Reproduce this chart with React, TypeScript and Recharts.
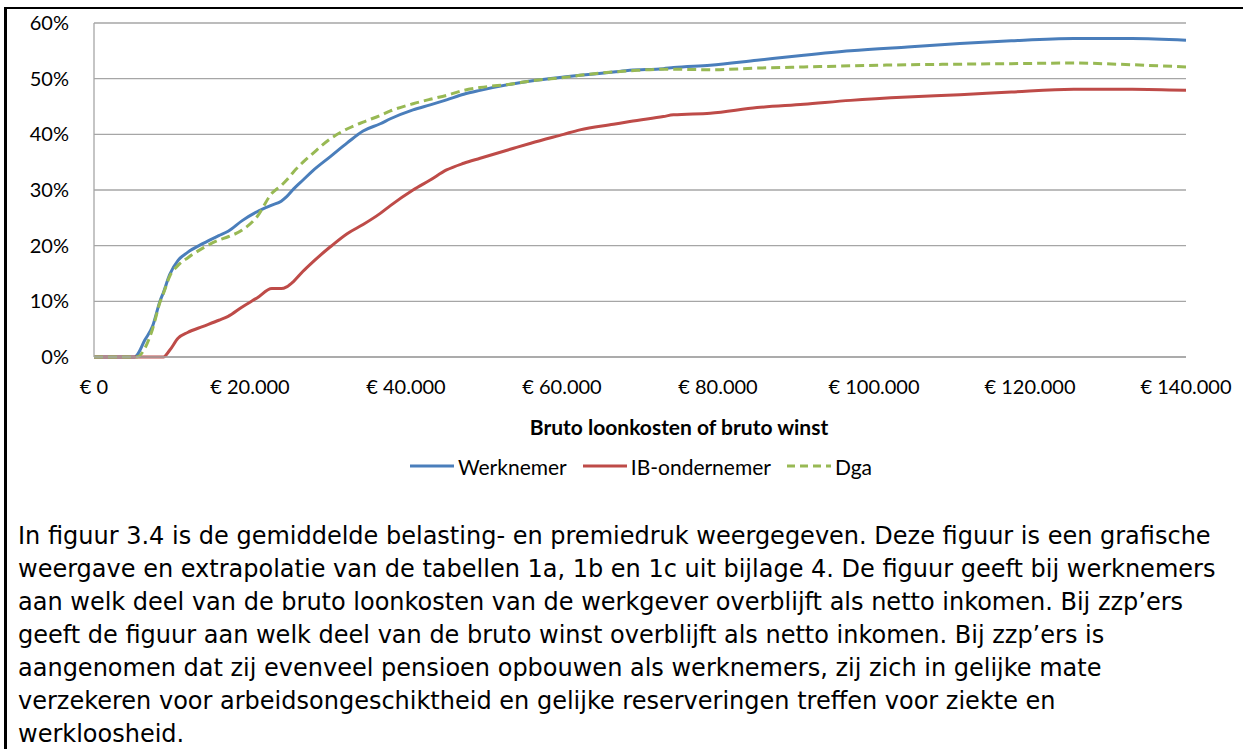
import React from 'react';
import { LineChart, Line, XAxis, YAxis, CartesianGrid, Legend, Label } from 'recharts';

// bruto loonkosten / bruto winst (euro)
const incomes = [
    0, 2000, 4000, 5200, 5500, 6500, 7500, 8500, 8900, 9700, 10800, 12000, 14000, 16000, 17200,
    19000, 20900, 22800, 24000, 24700, 25600, 26800, 28000, 30300, 32500, 34500, 36700, 38000,
    40900, 43100, 45200, 47400, 49500, 53800, 56000, 60200, 62300, 66600, 68700, 73000, 74300,
    79000, 85000, 91000, 97000, 104300, 111000, 117600, 125600, 133100, 140000,
];

// gemiddelde belasting- en premiedruk (%)
const werknemer = [
    0, 0, 0, 0, 0.3, 3.0, 5.5, 10.2, 11.6, 14.8, 17.4, 18.8, 20.4, 21.8, 22.6,
    24.5, 26.1, 27.3, 28.0, 28.8, 30.2, 31.8, 33.4, 36.0, 38.5, 40.6, 41.9, 42.8,
    44.4, 45.3, 46.2, 47.2, 47.9, 49.1, 49.6, 50.3, 50.6, 51.2, 51.5, 51.8, 52.0,
    52.4, 53.3, 54.2, 55.0, 55.7, 56.3, 56.8, 57.2, 57.2, 56.9,
];

const ibOndernemer = [
    0, 0, 0, 0, 0, 0, 0, 0, 0, 1.2, 3.4, 4.4, 5.5, 6.6, 7.3,
    9.0, 10.6, 12.3, 12.3, 12.6, 13.6, 15.4, 17.0, 19.8, 22.2, 23.8, 25.8, 27.2,
    30.0, 31.8, 33.6, 34.8, 35.7, 37.5, 38.4, 40.0, 40.8, 41.8, 42.3, 43.2, 43.5,
    43.8, 44.8, 45.4, 46.1, 46.7, 47.1, 47.6, 48.1, 48.1, 47.9,
];

const dga = [
    0, 0, 0, 0, 0, 1.5, 5.0, 10.0, 11.4, 14.5, 16.5, 17.8, 19.6, 21.0, 21.6,
    22.8, 25.2, 29.4, 30.8, 31.8, 33.3, 35.0, 36.5, 39.2, 41.0, 42.2, 43.4, 44.2,
    45.5, 46.3, 47.0, 47.9, 48.4, 49.1, 49.6, 50.2, 50.6, 51.2, 51.4, 51.7, 51.7,
    51.6, 51.9, 52.1, 52.3, 52.5, 52.6, 52.7, 52.8, 52.5, 52.1,
];

const xTicks = [0, 20000, 40000, 60000, 80000, 100000, 120000, 140000];
const yTicks = [0, 10, 20, 30, 40, 50, 60];

const paragraphLines = [
    'In figuur 3.4 is de gemiddelde belasting- en premiedruk weergegeven. Deze figuur is een grafische',
    'weergave en extrapolatie van de tabellen 1a, 1b en 1c uit bijlage 4. De figuur geeft bij werknemers',
    'aan welk deel van de bruto loonkosten van de werkgever overblijft als netto inkomen. Bij zzp’ers',
    'geeft de figuur aan welk deel van de bruto winst overblijft als netto inkomen. Bij zzp’ers is',
    'aangenomen dat zij evenveel pensioen opbouwen als werknemers, zij zich in gelijke mate',
    'verzekeren voor arbeidsongeschiktheid en gelijke reserveringen treffen voor ziekte en',
    'werkloosheid.',
];

const data = incomes.map((x, i) => ({
    x,
    werknemer: werknemer[i],
    ib: ibOndernemer[i],
    dga: dga[i],
}));

const BLUE = '#4a7ebb';
const RED = '#be4b48';
const GREEN = '#98b954';
const FONT = 'Lato, sans-serif';
const tickFont = { fontFamily: FONT, fontSize: 20, fill: '#000' };

const formatEuro = (v: number) =>
    '€ ' + String(v).replace(/\B(?=(\d{3})+(?!\d))/g, '.');

const legendItems = [
    { name: 'Werknemer', color: BLUE },
    { name: 'IB-ondernemer', color: RED },
    { name: 'Dga', color: GREEN },
];

const ChartLegend = () => (
    <div
        style={{
            display: 'flex',
            justifyContent: 'center',
            alignItems: 'center',
            fontFamily: FONT,
            fontSize: 21,
            color: '#000',
            height: 28,
        }}
    >
        {legendItems.map((it, i) => (
            <div key={it.name} style={{ display: 'flex', alignItems: 'center', marginLeft: i ? 16 : 0 }}>
                <svg width={44} height={6}>
                    <line
                        x1={0}
                        y1={3}
                        x2={44}
                        y2={3}
                        stroke={it.color}
                        strokeWidth={3}
                        strokeDasharray={i === 2 ? '8 5' : undefined}
                    />
                </svg>
                <span style={{ marginLeft: 4 }}>{it.name}</span>
            </div>
        ))}
    </div>
);

const App: React.FC = () => (
    <div
        style={{
            position: 'absolute',
            left: 0,
            top: 0,
            width: 1243,
            height: 749,
            overflow: 'hidden',
            background: '#fff',
        }}
    >
        <div
            style={{
                position: 'absolute',
                left: 4,
                top: 7,
                width: 1260,
                height: 760,
                borderTop: '2px solid #000',
                borderLeft: '3px solid #000',
            }}
        />
        <div style={{ position: 'absolute', left: 0, top: 0 }}>
            <LineChart
                width={1243}
                height={500}
                data={data}
                margin={{ top: 23, right: 57, left: 0, bottom: 58 }}
            >
                <CartesianGrid vertical={false} stroke="#a6a6a6" strokeWidth={1.3} />
                <XAxis
                    dataKey="x"
                    type="number"
                    domain={[0, 140000]}
                    ticks={xTicks}
                    tickFormatter={formatEuro}
                    tick={tickFont}
                    tickLine={false}
                    tickSize={0}
                    tickMargin={23}
                    height={85}
                    stroke="#a6a6a6"
                    strokeWidth={1.3}
                    interval={0}
                >
                    <Label
                        value="Bruto loonkosten of bruto winst"
                        position="insideBottom"
                        offset={7}
                        dx={39}
                        style={{ fontFamily: FONT, fontSize: 21, fontWeight: 700, fill: '#000' }}
                    />
                </XAxis>
                <YAxis
                    type="number"
                    domain={[0, 60]}
                    ticks={yTicks}
                    tickFormatter={(v: number) => `${v}%`}
                    tick={tickFont}
                    tickLine={false}
                    tickSize={0}
                    tickMargin={25}
                    width={94}
                    stroke="#a6a6a6"
                    strokeWidth={1.3}
                    interval={0}
                />
                <Legend
                    layout="horizontal"
                    verticalAlign="middle"
                    align="center"
                    content={() => <ChartLegend />}
                    wrapperStyle={{ top: 452, left: 0, width: 1282, height: 28 }}
                />
                <Line
                    dataKey="werknemer"
                    name="Werknemer"
                    type="monotone"
                    stroke={BLUE}
                    strokeWidth={3}
                    dot={false}
                    isAnimationActive={false}
                />
                <Line
                    dataKey="ib"
                    name="IB-ondernemer"
                    type="monotone"
                    stroke={RED}
                    strokeWidth={3}
                    dot={false}
                    isAnimationActive={false}
                />
                <Line
                    dataKey="dga"
                    name="Dga"
                    type="monotone"
                    stroke={GREEN}
                    strokeWidth={3}
                    strokeDasharray="9 5"
                    dot={false}
                    isAnimationActive={false}
                />
            </LineChart>
        </div>
        <div
            style={{
                position: 'absolute',
                left: 18,
                top: 520,
                fontFamily: '"DejaVu Sans", Verdana, sans-serif',
                fontSize: 24,
                lineHeight: '33px',
                color: '#000',
                whiteSpace: 'nowrap',
            }}
        >
            {paragraphLines.map((l) => (
                <div key={l}>{l}</div>
            ))}
        </div>
    </div>
);

export default App;
